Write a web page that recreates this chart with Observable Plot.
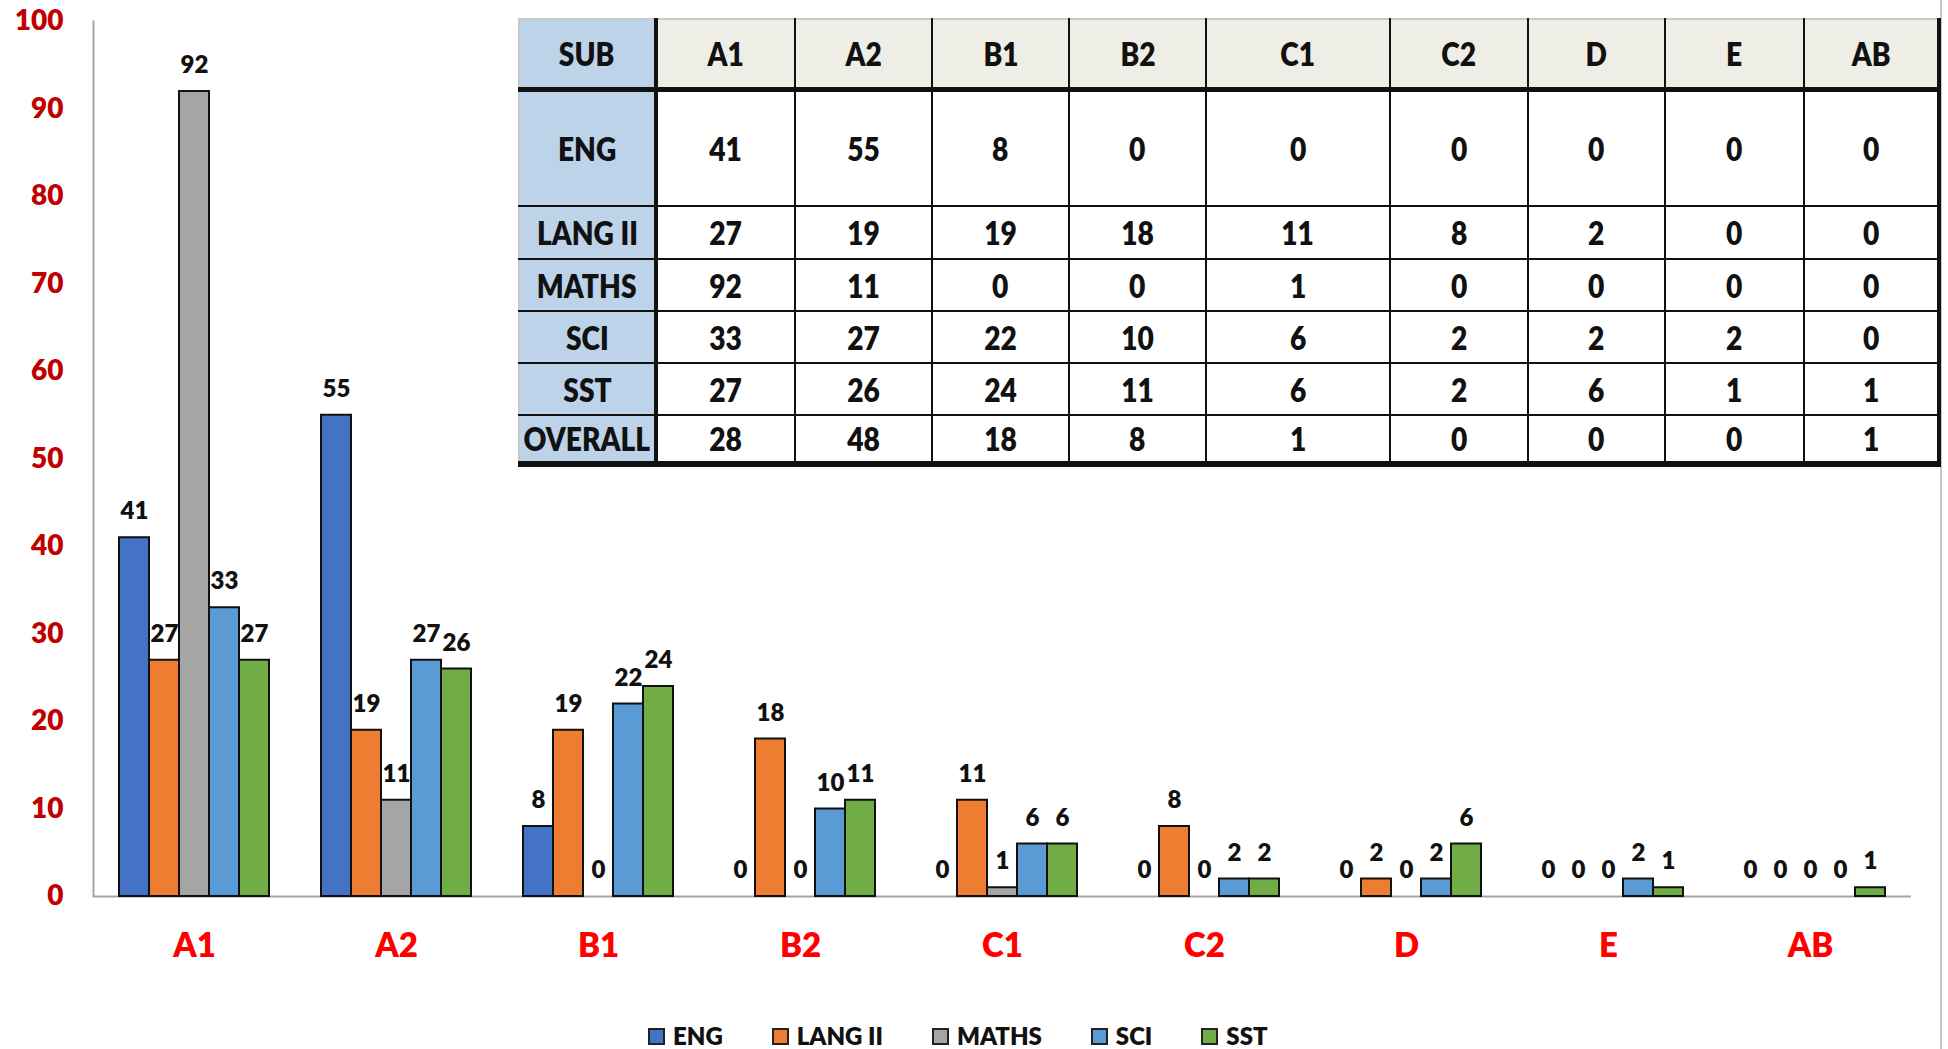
<!DOCTYPE html>
<html>
<head>
<meta charset="utf-8">
<script src="https://cdn.jsdelivr.net/npm/d3@7"></script>
<script src="https://cdn.jsdelivr.net/npm/@observablehq/plot@0.6"></script>
<style>
  html, body { margin: 0; padding: 0; background: #fff; }
  #wrap { position: relative; width: 1948px; height: 1049px; overflow: hidden; font-family: Lato, "Open Sans", sans-serif; }
  #chart { position: absolute; left: 0; top: 0; }
  #edge { position: absolute; left: 1940px; top: 0; width: 2px; height: 1049px; background: #c9c9c9; }
  #tbl { position: absolute; left: 518px; top: 18px; width: 1420px; border-collapse: collapse; table-layout: fixed;
         font-family: Lato, sans-serif; font-weight: 800; font-size: 32px; color: #111; background: #fff; }
  #tbl td { padding: 0; text-align: center; vertical-align: middle; border: 2px solid #111; white-space: nowrap; overflow: visible; }
  #tbl td span { display: inline-block; transform: scaleX(0.88); margin: 0 -30px; }
  #tbl tbody tr.head td { background: #EFEEE6; border-top: 2px solid #c8c8c8; border-bottom: 5px solid #111; }
  #tbl tbody tr td.sub { background: #BDD3EA; border-left: 2px solid #c8c8c8; border-right: 4px solid #111; }
  #tbl tbody tr td.last { border-right: 4px solid #111; }
  #tbl tbody tr.foot td { border-bottom: 6px solid #111; }
  #legend { position: absolute; left: 648px; top: 1024px; display: flex; align-items: center; font-family: Lato, sans-serif;
            font-weight: 800; font-size: 24px; color: #111; }
  #legend .item { display: flex; align-items: center; margin-right: 49px; }
  #legend .sw { width: 13px; height: 13px; border: 2px solid #222; margin-right: 8px; }
  #legend .lb { line-height: 24px; }
</style>
</head>
<body>
<div id="wrap">
  <div id="chart"></div>
  <div id="edge"></div>
  <table id="tbl"></table>
  <div id="legend"></div>
</div>
<script>
// ---- data ----
const grades   = ["A1", "A2", "B1", "B2", "C1", "C2", "D", "E", "AB"];
const subjects = ["ENG", "LANG II", "MATHS", "SCI", "SST"];
const eng      = [41, 55, 8, 0, 0, 0, 0, 0, 0];
const lang2    = [27, 19, 19, 18, 11, 8, 2, 0, 0];
const maths    = [92, 11, 0, 0, 1, 0, 0, 0, 0];
const sci      = [33, 27, 22, 10, 6, 2, 2, 2, 0];
const sst      = [27, 26, 24, 11, 6, 2, 6, 1, 1];
const overall  = [28, 48, 18, 8, 1, 0, 0, 0, 1];
const yTicks   = [0, 10, 20, 30, 40, 50, 60, 70, 80, 90, 100];
const tableHeader = "SUB";
const overallLabel = "OVERALL";

// ---- styles ----
const colors = ["#4472C4", "#ED7D31", "#A5A5A5", "#5B9BD5", "#70AD47"];
const colWidths = [137, 139, 137, 137, 137, 184, 138, 137, 139, 135];
const rowHeights = [70, 117, 53, 52, 52, 52, 49];

const series = [eng, lang2, maths, sci, sst];
const data = [];
grades.forEach((g, gi) => subjects.forEach((s, si) => data.push({grade: g, subject: s, value: series[si][gi]})));

const chart = Plot.plot({
  width: 1948,
  height: 990,
  marginLeft: 92,
  marginRight: 36,
  marginTop: 21,
  marginBottom: 94,
  style: {fontFamily: "Lato, sans-serif", background: "transparent"},
  fx: {domain: grades, padding: 0, label: null},
  x: {domain: subjects, paddingInner: 0, paddingOuter: 0.76, axis: null},
  y: {domain: [0, 100], label: null},
  color: {domain: subjects, range: colors},
  marks: [
    Plot.ruleY([0], {stroke: "#a6a6a6", strokeWidth: 2}),
    Plot.frame({anchor: "left", facetAnchor: "left", stroke: "#a6a6a6", strokeWidth: 2}),
    Plot.barY(data.filter(d => d.value > 0), {fx: "grade", x: "subject", y: "value", fill: "subject",
      stroke: "#111", strokeWidth: 2}),
    Plot.text(data, {fx: "grade", x: "subject", y: "value", text: d => String(d.value), dy: -26,
      fontSize: 24, fontWeight: 800, fill: "#111"}),
    Plot.axisY({ticks: yTicks, tickSize: 0, tickPadding: 30, fontSize: 28, fontWeight: 800,
      fill: "#C00000", label: null}),
    Plot.axisFx({anchor: "bottom", tickSize: 0, tickPadding: 37, fontSize: 33, fontWeight: 800,
      fill: "#FF0000", label: null})
  ]
});
document.getElementById("chart").appendChild(chart);

// ---- table ----
const tbl = document.getElementById("tbl");
const colgroup = document.createElement("colgroup");
colWidths.forEach(w => { const c = document.createElement("col"); c.style.width = w + "px"; colgroup.appendChild(c); });
tbl.appendChild(colgroup);
const tbody = document.createElement("tbody");
tbl.appendChild(tbody);
const rows = [[tableHeader, ...grades]]
  .concat(subjects.map((s, si) => [s, ...series[si]]))
  .concat([[overallLabel, ...overall]]);
rows.forEach((r, ri) => {
  const tr = document.createElement("tr");
  tr.style.height = rowHeights[ri] + "px";
  if (ri === 0) tr.className = "head";
  if (ri === rows.length - 1) tr.className = "foot";
  r.forEach((v, ci) => {
    const td = document.createElement("td");
    if (ci === 0) td.className = "sub";
    if (ci === r.length - 1) td.className = "last";
    const sp = document.createElement("span");
    sp.textContent = v;
    td.appendChild(sp);
    tr.appendChild(td);
  });
  tbody.appendChild(tr);
});

// ---- legend ----
const legend = document.getElementById("legend");
subjects.forEach((s, i) => {
  const it = document.createElement("div"); it.className = "item";
  const sw = document.createElement("div"); sw.className = "sw"; sw.style.background = colors[i];
  const lb = document.createElement("div"); lb.className = "lb"; lb.textContent = s;
  it.appendChild(sw); it.appendChild(lb); legend.appendChild(it);
});
</script>
</body>
</html>
